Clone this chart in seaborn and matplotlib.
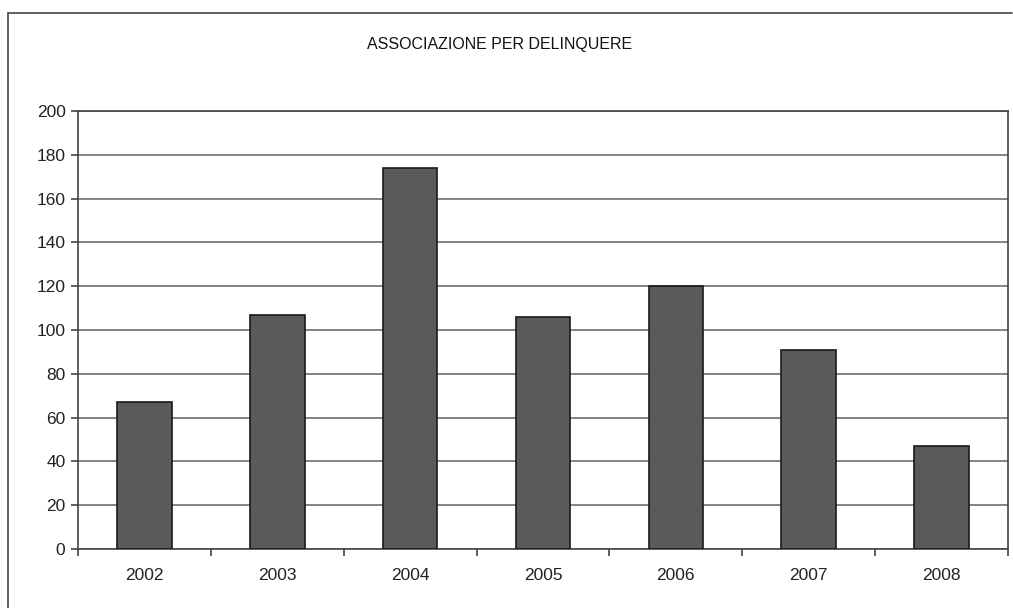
import matplotlib
matplotlib.use("Agg")
import matplotlib.pyplot as plt
import seaborn as sns
import pandas as pd
import numpy as np
from matplotlib.lines import Line2D

years = ["2002", "2003", "2004", "2005", "2006", "2007", "2008"]
counts = [67, 107, 174, 106, 120, 91, 47]
yticks = [0, 20, 40, 60, 80, 100, 120, 140, 160, 180, 200]
title = "ASSOCIAZIONE PER DELINQUERE"

df = pd.DataFrame({"anno": years, "valore": counts})

sns.set_theme(style="white")
plt.rcParams["font.family"] = ["Liberation Sans", "DejaVu Sans"]

fig = plt.figure(figsize=(10.13, 6.08), dpi=100)
ax = fig.add_axes([78 / 1013, 59 / 608, 930 / 1013, 438 / 608])

sns.barplot(data=df, x="anno", y="valore", color="#5a5a5a", width=0.41,
            edgecolor="#1a1a1a", linewidth=1.2, saturation=1, ax=ax, zorder=3)

ax.set_ylim(0, 200)
ax.set_xlim(-0.5, len(years) - 0.5)
ax.set_yticks(yticks)
ax.yaxis.grid(True, color="#6e6e6e", linewidth=1.2, zorder=0)
ax.set_axisbelow(True)
ax.set_xlabel("")
ax.set_ylabel("")

# ticks between categories, like Excel
ax.set_xticks(np.arange(len(years)))
ax.set_xticklabels(years)
ax.tick_params(axis="x", which="major", length=0, pad=14, labelsize=12.5, colors="#222222")
ax.set_xticks(np.arange(len(years) + 1) - 0.5, minor=True)
ax.tick_params(axis="x", which="minor", length=5, width=1.2, color="#444444", bottom=True)
ax.tick_params(axis="y", length=5, width=1.2, color="#444444", left=True, labelsize=12.5,
               pad=4, labelcolor="#222222")

for side, sp in ax.spines.items():
    sp.set_visible(True)
    sp.set_color("#444444")
    sp.set_linewidth(1.2)

fig.text(500 / 1013, 1 - 45 / 608, title, ha="center", va="center", fontsize=11.5,
         color="#111111")

# outer chart frame
fig.add_artist(Line2D([8 / 1013, 1012 / 1013], [1 - 13 / 608, 1 - 13 / 608],
                      transform=fig.transFigure, color="#555555", linewidth=1.3))
fig.add_artist(Line2D([8 / 1013, 8 / 1013], [0, 1 - 13 / 608],
                      transform=fig.transFigure, color="#555555", linewidth=1.3))

fig.savefig("out.png", dpi=100, facecolor="white")
